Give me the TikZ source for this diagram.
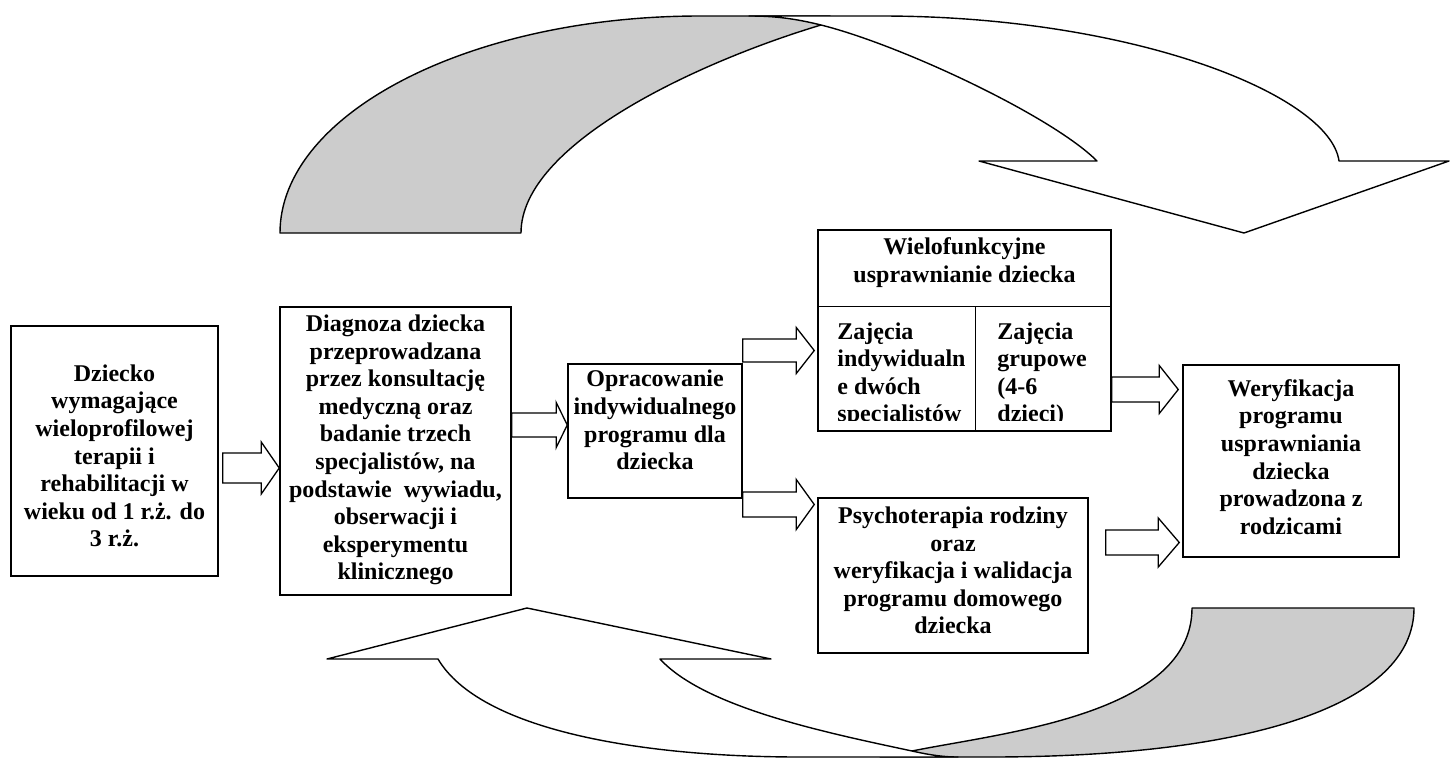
\documentclass[tikz,border=0pt]{standalone}
\usepackage{fontspec}
\setmainfont{Liberation Serif}
\usetikzlibrary{calc}
\definecolor{ribbongray}{HTML}{CCCCCC}

% block arrow from coordinate #1 to tip #2: shaft half width #3, head half width #4, head length #5
\newcommand\blockarrow[5]{%
  \draw[arrowline] let \p1=(#1), \p2=(#2) in
    (\x1,{\y1+#3pt}) -- ({\x2-#5pt},{\y1+#3pt}) -- ({\x2-#5pt},{\y1+#4pt}) -- (\x2,\y2)
    -- ({\x2-#5pt},{\y1-#4pt}) -- ({\x2-#5pt},{\y1-#3pt}) -- (\x1,{\y1-#3pt}) -- cycle;}

\begin{document}
\begin{tikzpicture}[x=1pt,y=-1pt,
  panel/.style={draw, line width=1.5pt, inner sep=0pt, fill=white},
  panelline/.style={line width=1.5pt},
  boxtext/.style={font=\bfseries\fontsize{24}{27.6}\selectfont, align=center, inner sep=0pt},
  celltext/.style={font=\bfseries\fontsize{24}{27.6}\selectfont, align=left, inner sep=0pt, anchor=north west},
  arrowline/.style={draw, line width=1.3pt, fill=white, line join=miter},
  ribbonline/.style={line width=1.4pt, line join=round}]

\useasboundingbox (0,0) rectangle (1451,758);

% upper curved arrow: shaded back part, then the front part with its head
\draw[ribbonline, fill=ribbongray]
  (280,233) .. controls (280,114) and (469,16) .. (700,16) -- (830,16) -- (821,25)
  .. controls (701,61) and (521,143) .. (521,233) -- cycle;
\draw[ribbonline, fill=white]
  (749,16) -- (881,16) .. controls (1133,16) and (1330,95) .. (1339,161)
  -- (1449,161) -- (1244,233) -- (979,161) -- (1097,161)
  .. controls (1052,116) and (901,45) .. (821,25)
  .. controls (791,17.5) and (770,16) .. (749,16) -- cycle;

% lower curved arrow: shaded back part, then the front part with its head
\draw[ribbonline, fill=ribbongray]
  (1192,608) -- (1414,608) .. controls (1414,705) and (1250,757) .. (990,757)
  -- (880,757) -- (912,751) .. controls (1000,733) and (1192,715) .. (1192,608) -- cycle;
\draw[ribbonline, fill=white]
  (438,659) -- (327,659) -- (527,608) -- (771,659) -- (660,659)
  .. controls (705,708) and (828,733) .. (912,751)
  .. controls (932,755.5) and (945,757) .. (958,757) -- (800,757)
  .. controls (640,757) and (480,730) .. (438,659) -- cycle;

% boxes
\node[panel, minimum width=207pt, minimum height=250pt] (b1) at (114.5,451) {};
\node[panel, minimum width=231pt, minimum height=288pt] (b2) at (395.5,451) {};
\node[panel, minimum width=174pt, minimum height=134pt] (b3) at (655,431) {};
\node[panel, minimum width=293pt, minimum height=201pt] (b4) at (964.5,330.5) {};
\node[panel, minimum width=270pt, minimum height=155pt] (b5) at (953,575.5) {};
\node[panel, minimum width=216pt, minimum height=192pt] (b6) at (1291,461) {};

% box texts
\node[boxtext] (t1) at ($(b1.center)+(0,5)$)
  {Dziecko\\wymagające\\wieloprofilowej\\terapii i\\rehabilitacji w\\wieku od 1 r.ż. do\\3 r.ż.};
\node[boxtext] (t2) at ($(b2.center)+(0,-1)$)
  {Diagnoza dziecka\\przeprowadzana\\przez konsultację\\medyczną oraz\\badanie trzech\\specjalistów, na\\podstawie\ \ wywiadu,\\obserwacji i\\eksperymentu\\klinicznego};
\node[boxtext] (t3) at ($(b3.center)+(0,-11)$)
  {Opracowanie\\indywidualnego\\programu dla\\dziecka};
\node[boxtext] (t5) at ($(b5.center)+(0,-5)$)
  {Psychoterapia rodziny\\oraz\\weryfikacja i walidacja\\programu domowego\\dziecka};
\node[boxtext] (t6) at ($(b6.center)+(0,-4)$)
  {Weryfikacja\\programu\\usprawniania\\dziecka\\prowadzona z\\rodzicami};

% box 4: header and two cells
\node[boxtext] (t4) at ($(b4.north)+(0,33.5)$) {Wielofunkcyjne\\usprawnianie dziecka};
\draw[panelline] ($(b4.north west)+(0,77)$) coordinate (d1) -- (d1 -| b4.east);
\draw[panelline] ($(b4.north west)+(158,77)$) coordinate (d2) -- (d2 |- b4.south);
\begin{scope}
  \clip ($(b4.north west)+(0,78)$) rectangle ($(b4.north east)+(0,191)$);
  \node[celltext] (c1) at ($(b4.north west)+(20,93)$) {Zajęcia\\indywidualn\\e dwóch\\specjalistów};
  \node[celltext] (c2) at ($(b4.north west)+(180,93)$) {Zajęcia\\grupowe\\(4-6\\dzieci)};
\end{scope}

% connecting block arrows
\coordinate (s1) at ($(b1.east)+(4,17)$);
\coordinate (e1) at (b2.west |- s1);
\blockarrow{s1}{e1}{15}{26}{18}

\coordinate (s2) at ($(b2.east)+(0,-26)$);
\coordinate (e2) at (b3.west |- s2);
\blockarrow{s2}{e2}{12}{22.5}{11}

\coordinate (s3) at ($(b3.east)+(0,-80.5)$);
\coordinate (e3) at ($(b4.west |- s3)+(-3,0)$);
\blockarrow{s3}{e3}{11.5}{23}{18}

\coordinate (s4) at ($(b3.east)+(0,73.5)$);
\coordinate (e4) at ($(b5.west |- s4)+(-3,0)$);
\blockarrow{s4}{e4}{12.5}{25}{18}

\coordinate (s5) at ($(b4.east)+(0,59)$);
\coordinate (e5) at ($(b6.west |- s5)+(-4,0)$);
\blockarrow{s5}{e5}{12.5}{24}{19}

\coordinate (s6) at ($(b5.east)+(17,-33)$);
\coordinate (e6) at ($(b6.west |- s6)+(-3,0)$);
\blockarrow{s6}{e6}{12.5}{24.5}{21}

\end{tikzpicture}
\end{document}
